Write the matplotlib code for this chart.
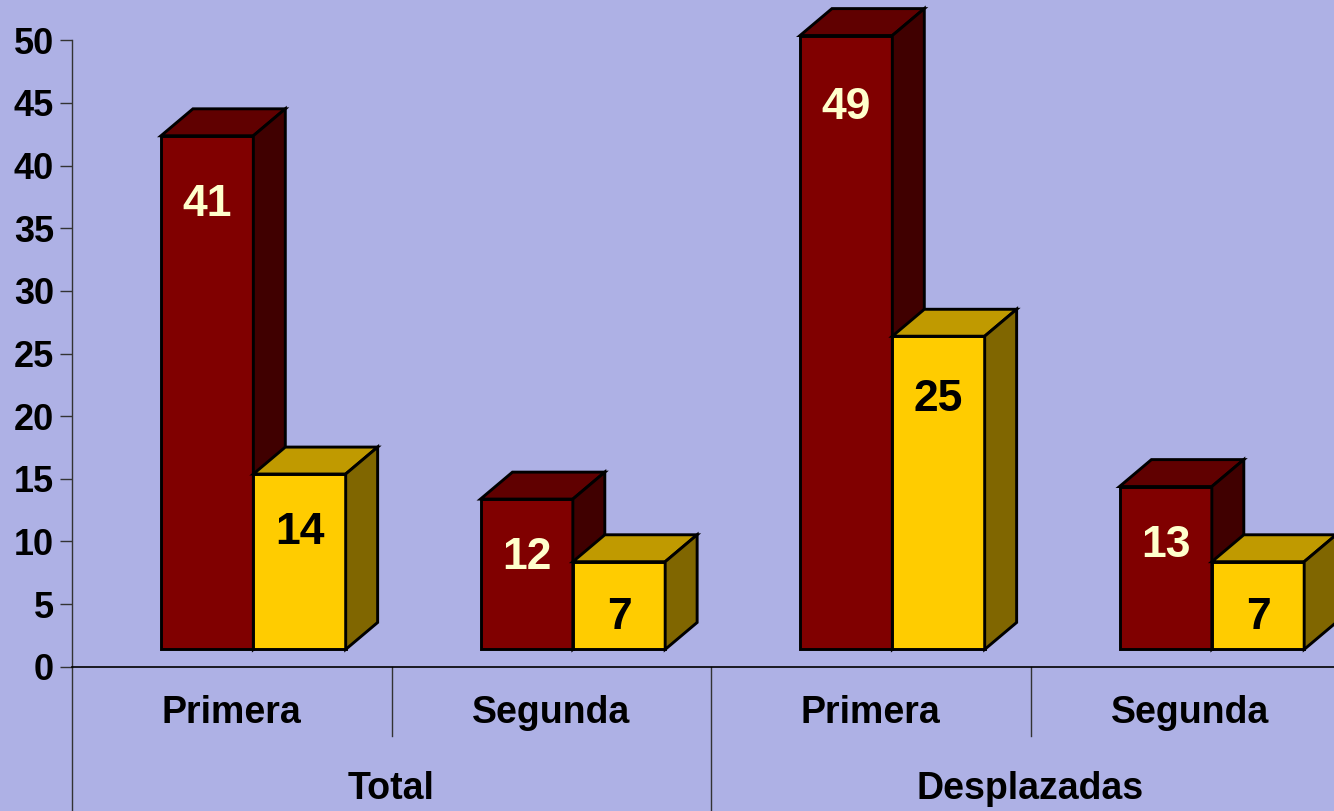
import matplotlib
matplotlib.use("Agg")
import matplotlib.pyplot as plt
from matplotlib.patches import Polygon

plt.rcParams["font.family"] = ["Liberation Sans", "DejaVu Sans"]
plt.rcParams["font.weight"] = "bold"

# datos
categorias = ["Primera", "Segunda", "Primera", "Segunda"]
grupos = ["Total", "Desplazadas"]
serie_roja = [41, 12, 49, 13]
serie_amarilla = [14, 7, 25, 7]
y_ticks = [0, 5, 10, 15, 20, 25, 30, 35, 40, 45, 50]

fondo = "#AEB1E5"
rojo = ("#800000", "#600000", "#400000")      # front, top, side
amarillo = ("#FFCC00", "#C09A00", "#806600")

W, H = 1334, 811
fig = plt.figure(figsize=(W / 100, H / 100), dpi=100, facecolor=fondo)
ax = fig.add_axes([72 / W, (H - 666.7) / H, 1278 / W, 626.4 / H])
ax.set_facecolor(fondo)
ax.set_xlim(-0.5, 3.5)
ax.set_ylim(0, 50)

# 3D look: depth offset in data units, floor lift
dx, dy = 0.1, 2.15
base = 1.38
ancho = 0.289
izq = -0.2214


def barra(x0, v, colores, label, label_color):
    y0, y1 = base, v + base
    x1 = x0 + ancho
    front = Polygon([(x0, y0), (x1, y0), (x1, y1), (x0, y1)])
    top = Polygon([(x0, y1), (x1, y1), (x1 + dx, y1 + dy), (x0 + dx, y1 + dy)])
    side = Polygon([(x1, y0), (x1 + dx, y0 + dy), (x1 + dx, y1 + dy), (x1, y1)])
    for p, c in zip([front, top, side], colores):
        p.set_facecolor(c)
        p.set_edgecolor("black")
        p.set_linewidth(2.1)
        p.set_joinstyle("miter")
        p.set_clip_on(False)
        ax.add_patch(p)
    ax.text(x0 + ancho / 2, v * 0.97 - 2.9, str(label), color=label_color,
            fontsize=32, fontweight="bold", ha="center", va="center")


for i in range(len(categorias)):
    barra(i + izq, serie_roja[i], rojo, serie_roja[i], "#FFFFCC")
    barra(i + izq + ancho, serie_amarilla[i], amarillo, serie_amarilla[i], "black")

# axes
for s in ["top", "right"]:
    ax.spines[s].set_visible(False)
ax.spines["left"].set_color("#333333")
ax.spines["left"].set_linewidth(1.0)
ax.spines["bottom"].set_linewidth(1.2)
ax.set_yticks(y_ticks)
ax.set_yticklabels([str(t) for t in y_ticks], fontsize=26, fontweight="bold")
ax.tick_params(axis="y", length=9, width=1.0, color="#333333", pad=4)
ax.set_xticks([])

# category separators and labels below the axis
tr = ax.get_xaxis_transform()
ax.plot([-0.5, -0.5], [0, -0.24], transform=tr, color="#333333", lw=1.0, clip_on=False)
ax.plot([1.5, 1.5], [0, -0.24], transform=tr, color="#333333", lw=1.0, clip_on=False)
for xs in [0.5, 2.5]:
    ax.plot([xs, xs], [0, -0.11], transform=tr, color="#333333", lw=1.0, clip_on=False)

for i, c in enumerate(categorias):
    ax.text(i, -0.074, c, transform=tr, fontsize=27, fontweight="bold",
            ha="center", va="center")
for j, g in enumerate(grupos):
    ax.text(2 * j + 0.5, -0.196, g, transform=tr, fontsize=27, fontweight="bold",
            ha="center", va="center")

fig.savefig("out.png", dpi=100, facecolor=fondo)
